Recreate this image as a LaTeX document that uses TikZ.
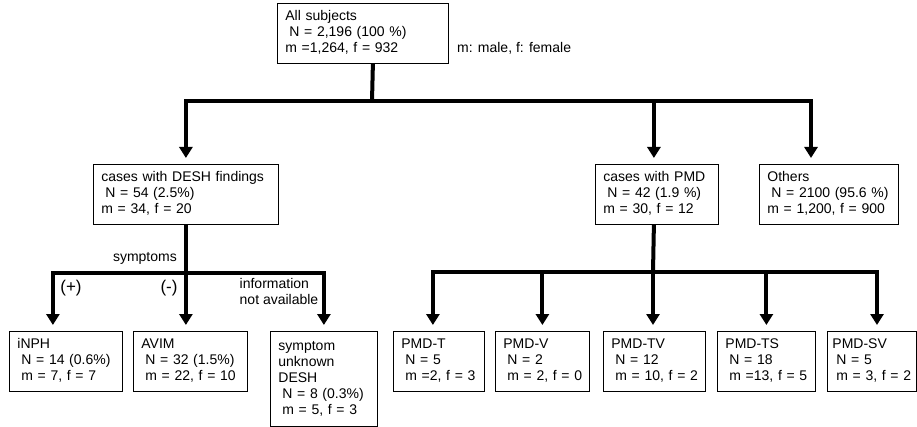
\documentclass[tikz,border=0pt]{standalone}
\usepackage{fontspec}
\setmainfont{Liberation Sans}
\usepackage{tikz}
\usetikzlibrary{arrows.meta,positioning,calc}

\newcommand{\indn}{\hspace*{4pt}}
\newcommand{\rowsof}[1]{\begin{tabular}{@{}l@{}}#1\end{tabular}}

\begin{document}
\begin{tikzpicture}[
  x=1pt, y=-1pt,
  every node/.style={font=\fontsize{14}{16}\selectfont},
  grpbox/.style={draw, line width=0.8pt, anchor=north west, align=left, inner xsep=8pt, inner ysep=2pt, minimum height=60pt},
  lbl/.style={inner sep=0pt},
  sign/.style={lbl, font=\fontsize{17}{19}\selectfont},
  bar/.style={line width=4pt},
  ptr/.style={bar, -{Triangle[width=13pt,length=11pt]}, shorten >=6pt}
]
\useasboundingbox (0,0) rectangle (917,427);

\node[grpbox, text width=155pt] (root) at (277,3) {\rowsof{All subjects\\\indn N = 2,196 (100 \%)\\m =1,264, f = 932}};
\node[lbl, anchor=west] (mf) at (457,48) {m: male, f: female};

\node[grpbox, text width=169pt] (desh) at (93,164) {\rowsof{cases with DESH findings\\\indn N = 54 (2.5\%)\\m = 34, f = 20}};
\node[grpbox, text width=107pt] (pmd) at (595,164) {\rowsof{cases with PMD\\\indn N = 42 (1.9 \%)\\m = 30, f = 12}};
\node[grpbox, text width=123pt] (oth) at (759,164) {\rowsof{Others\\\indn N = 2100 (95.6 \%)\\m = 1,200, f = 900}};

\node[grpbox, text width=97pt] (inph) at (9,331) {\rowsof{iNPH\\\indn N = 14 (0.6\%)\\\indn m = 7, f = 7}};
\node[grpbox, text width=98pt] (avim) at (133,331) {\rowsof{AVIM\\\indn N = 32 (1.5\%)\\\indn m = 22, f = 10}};
\node[grpbox, text width=91pt, minimum height=95pt] (unk) at (270,331) {\rowsof{symptom\\unknown\\DESH\\\indn N = 8 (0.3\%)\\\indn m = 5, f = 3}};

\node[grpbox, text width=75pt] (pmdt) at (393,331) {\rowsof{PMD-T\\\indn N = 5\\\indn m =2, f = 3}};
\node[grpbox, text width=78pt] (pmdv) at (495,331) {\rowsof{PMD-V\\\indn N = 2\\\indn m = 2, f = 0}};
\node[grpbox, text width=86pt] (pmdtv) at (603,331) {\rowsof{PMD-TV\\\indn N = 12\\\indn m = 10, f = 2}};
\node[grpbox, text width=82pt] (pmdts) at (717,331) {\rowsof{PMD-TS\\\indn N = 18\\\indn m =13, f = 5}};
\node[grpbox, text width=79pt, inner xsep=5pt] (pmdsv) at (827,331) {\rowsof{PMD-SV\\\indn N = 5\\\indn m = 3, f = 2}};

\node[lbl, anchor=east] (sym) at (177,258) {symptoms};
\node[sign] (pos) at (71,288) {(+)};
\node[sign] (neg) at (169,288) {(-)};
\node[lbl, align=left] (info) at (279,291) {information\\not available};

\coordinate (j0) at (372,101);
\coordinate (j1) at ($(desh.south)+(0,48)$);
\coordinate (j2) at (653,272);

\draw[bar] ([xshift=10pt]root.south) -- (j0);
\draw[ptr] (j0) -| (desh.north);
\draw[ptr] (j0) -| ([xshift=-3pt]pmd.north);
\draw[ptr] (j0) -| ([xshift=52pt]oth.north west);

\draw[bar] (desh.south) -- (j1);
\draw[ptr] (j1) -| ([xshift=-13pt]inph.north);
\draw[ptr] (j1) -- (j1 |- avim.north);
\draw[ptr] (j1) -| (unk.north);

\draw[bar] ([xshift=-3pt]pmd.south) -- (j2);
\draw[ptr] (j2) -| ([xshift=-6pt]pmdt.north);
\draw[ptr] (j2) -| (pmdv.north);
\draw[ptr] (j2) -- (j2 |- pmdtv.north);
\draw[ptr] (j2) -| (pmdts.north);
\draw[ptr] (j2) -| ([xshift=50pt]pmdsv.north west);
\end{tikzpicture}
\end{document}
